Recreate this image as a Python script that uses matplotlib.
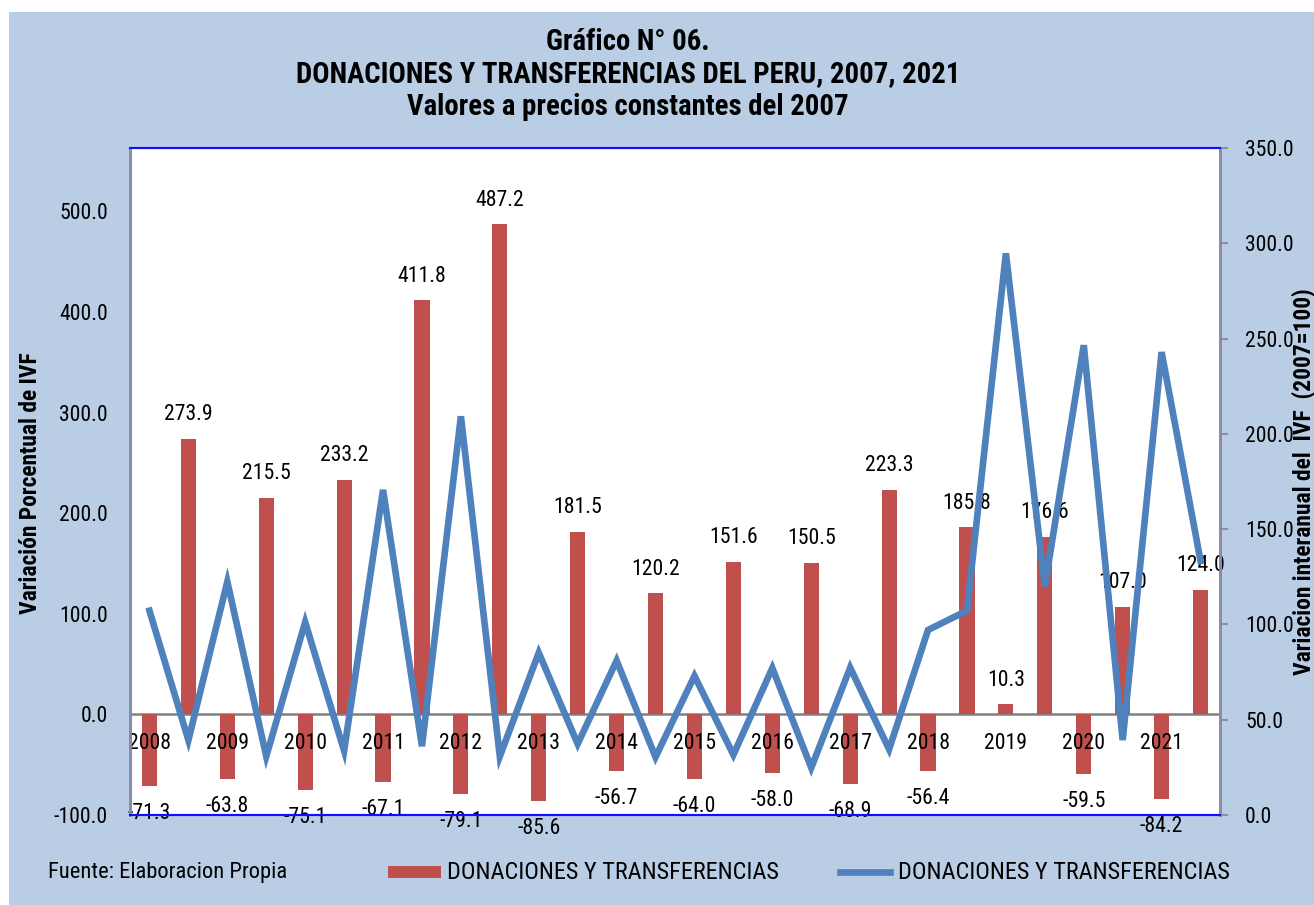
import matplotlib
matplotlib.use("Agg")
import matplotlib.pyplot as plt
from matplotlib.patches import Rectangle
from matplotlib.lines import Line2D
from matplotlib import font_manager as fm

# ---------------- data ----------------
years = ["2008", "2009", "2010", "2011", "2012", "2013", "2014",
         "2015", "2016", "2017", "2018", "2019", "2020", "2021"]
categories = []
for y in years:
    categories += [y, ""]

bar_values = [-71.3, 273.9, -63.8, 215.5, -75.1, 233.2, -67.1, 411.8,
              -79.1, 487.2, -85.6, 181.5, -56.7, 120.2, -64.0, 151.6,
              -58.0, 150.5, -68.9, 223.3, -56.4, 185.8, 10.3, 176.6,
              -59.5, 107.0, -84.2, 124.0]

line_values = [107.2, 39.3, 122.4, 30.8, 101.2, 33.7, 170.6, 36.1,
               209.2, 30.8, 85.1, 37.3, 81.0, 30.4, 73.0, 31.6,
               77.1, 24.8, 77.3, 34.5, 97.1, 107.2, 294.7, 120.0,
               246.5, 39.3, 242.9, 133.3]

left_ticks = [-100, 0, 100, 200, 300, 400, 500]
right_ticks = [0, 50, 100, 150, 200, 250, 300, 350]

series_name = "DONACIONES Y TRANSFERENCIAS"
title_lines = ["Gráfico N° 06.",
               "DONACIONES Y TRANSFERENCIAS DEL PERU, 2007, 2021",
               "Valores a precios constantes del 2007"]
left_label = "Variación Porcentual de IVF"
right_label = "Variacion interanual del  IVF  (2007=100)"
source = "Fuente: Elaboracion Propia"

# ---------------- style ----------------
names = {f.name for f in fm.fontManager.ttflist}
FONT = "DejaVu Sans"
for cand in ["Liberation Sans Narrow", "Arial Narrow", "Roboto Condensed",
             "PT Sans Narrow", "Archivo Narrow", "Barlow Semi Condensed"]:
    if cand in names:
        FONT = cand
        break
plt.rcParams["font.family"] = [FONT, "DejaVu Sans"]

BG = "#B9CDE5"
BAR = "#C0504D"
LINE = "#4F81BD"

W, H = 1314, 905
fig = plt.figure(figsize=(W / 100, H / 100), dpi=100, facecolor="white")
fig.patches.append(Rectangle((9 / W, 0), 1 - 9 / W, 1 - 12 / H,
                             transform=fig.transFigure, facecolor=BG,
                             edgecolor="none", zorder=-10))
renderer = fig.canvas.get_renderer()


def fitsize(text, target, weight="normal", base=20.0):
    t = fig.text(0, 0, text, fontsize=base, fontweight=weight)
    w = t.get_window_extent(renderer).width
    t.remove()
    return base * target / w


FS = fitsize("487.2", 49)
FS_T = fitsize(title_lines[1], 663, "bold")
FS_L = fitsize(series_name, 333)
FS_Y = fitsize(left_label, 262, "bold")
FS_S = fitsize(source, 237)

ax = fig.add_axes([130 / W, 90 / H, 1090 / W, 667 / H])
ax.set_facecolor("white")
ax2 = ax.twinx()

x = list(range(len(bar_values)))
ax.bar(x, bar_values, width=0.39, color=BAR, zorder=2)
ax.axhline(0, color="#808080", lw=1.8, zorder=1)
ax.set_xlim(-0.5, len(bar_values) - 0.5)
ax.set_ylim(-100, 563)
ax.set_yticks(left_ticks)
ax.set_yticklabels([f"{t:.1f}" for t in left_ticks], fontsize=FS)
ax.tick_params(axis="y", length=0, pad=16)
ax.set_xticks([])

ax2.plot(x, line_values, color=LINE, lw=4.8, solid_joinstyle="miter",
         zorder=3)
ax2.set_ylim(0, 350)
ax2.set_yticks(right_ticks)
ax2.set_yticklabels([f"{t:.1f}" for t in right_ticks], fontsize=FS)
ax2.tick_params(axis="y", length=6, width=1.5, color="#909090", pad=12)
ax2.set_zorder(ax.get_zorder() + 1)
ax2.patch.set_visible(False)

for a in (ax, ax2):
    for s in ("top", "bottom"):
        a.spines[s].set_color("#1010FF")
        a.spines[s].set_linewidth(1.5)
    for s in ("left", "right"):
        a.spines[s].set_color("#8A8AAA")
        a.spines[s].set_linewidth(2)

# data labels
for xi, v in zip(x, bar_values):
    off = 17.3 if v >= 0 else -19.8
    ax.annotate(f"{v:.1f}", (xi, v), xytext=(0, off),
                textcoords="offset points", ha="center", va="center",
                fontsize=FS, color="black", zorder=5, annotation_clip=False)

# category labels next to the zero line
for xi, c in zip(x, categories):
    if c:
        ax.annotate(c, (xi, 0), xytext=(0, -21), textcoords="offset points",
                    ha="center", va="center", fontsize=FS, color="black",
                    zorder=5)

# axis titles
fig.text(31 / W, 1 - 483 / H, left_label, rotation=90,
         ha="center", va="center", fontsize=FS_Y, fontweight="bold")
fig.text(1304 / W, 1 - 482 / H, right_label,
         rotation=90, ha="center", va="center", fontsize=FS_Y,
         fontweight="bold")

# title
for i, t in enumerate(title_lines):
    fig.text(628 / W, 1 - (42 + 32.5 * i) / H, t, ha="center", va="center",
             fontsize=FS_T, fontweight="bold")

# source + legend (drawn in figure pixels)
yl = 1 - 872 / H
fig.text(48 / W, yl, source, ha="left", va="center", fontsize=FS_S)
fig.patches.append(Rectangle((388 / W, 1 - 878 / H), 53 / W, 12 / H,
                             transform=fig.transFigure, facecolor=BAR,
                             edgecolor="none"))
fig.text(447 / W, yl, series_name, ha="left", va="center", fontsize=FS_L)
fig.lines.append(Line2D([840 / W, 890 / W], [yl, yl], color=LINE, lw=4.8,
                        transform=fig.transFigure))
fig.text(898 / W, yl, series_name, ha="left", va="center", fontsize=FS_L)

fig.savefig("out.png", dpi=100, facecolor=fig.get_facecolor())
